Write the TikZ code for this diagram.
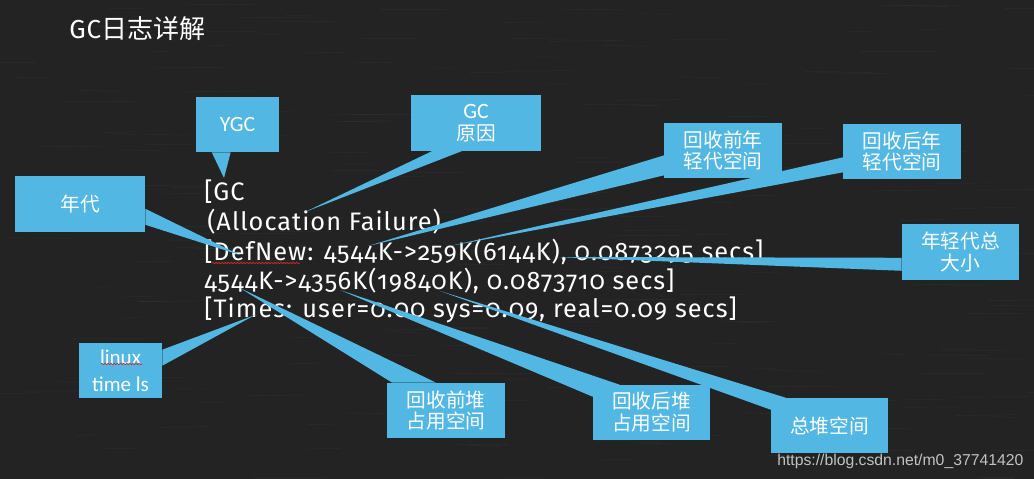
\documentclass[tikz,border=0pt]{standalone}
\usepackage{fontspec}
\usepackage{tikz}
\setmainfont{Carlito}
\newfontfamily\logfont{Fira Sans}[Numbers=OldStyle,LetterSpace=4]
\newfontfamily\cjk{Noto Sans CJK SC}
\newfontfamily\urlfont{Liberation Sans}
\usetikzlibrary{positioning,calc,decorations.pathmorphing}
\definecolor{board}{HTML}{232323}
\definecolor{callfill}{HTML}{52B7E3}
\definecolor{squiggle}{HTML}{D42A2A}
\definecolor{urlgray}{HTML}{C2C2C2}
\tikzset{
  callout/.style={fill=callfill,minimum width=2.925cm,minimum height=1.375cm,inner sep=1pt,align=center,text=white,font=\fontsize{14}{15.6}\selectfont\cjk},
  latincall/.style={callout,font=\fontsize{15.5}{17}\selectfont},
  wedge/.style={fill=callfill},
  logline/.style={anchor=base west,inner sep=0pt,text=white,font=\fontsize{18}{22}\selectfont\logfont},
  spell/.style={squiggle,line width=0.5pt,decorate,decoration={snake,amplitude=0.5pt,segment length=2.2pt}}
}

\begin{document}
\begin{tikzpicture}[x=0.025cm,y=-0.025cm]
  \useasboundingbox (0,0) rectangle (1034,479);
  \fill[board] (0,0) rectangle (1034,479);
  % chalk dust
  \pgfmathsetseed{7}
  \foreach \i in {1,...,220}
    \draw[white,opacity=0.05,line width=0.3pt] (rnd*1034,rnd*479) -- ++(20+rnd*60,rnd*2-1);

  \node[anchor=base west,inner sep=0pt,text=white,font=\fontsize{18.5}{20}\selectfont\logfont] (title) at (69,39) {GC{\cjk 日志详解}};

  % log text
  \node[logline] (l1) at (204,200) {[GC};
  \node[logline] (l2) at (207,230) {(Allocation Failure)};
  \node[logline] (l3) at (204,260) {[DefNew: 4544K->259K(6144K), 0.0873295 secs]};
  \node[logline] (l4) at (204,289) {4544K->4356K(19840K), 0.0873710 secs]};
  \node[logline] (l5) at (204,317) {[Times: user=0.00 sys=0.09, real=0.09 secs]};
  \draw[spell] (212,263) -- (300,263);

  % callouts
  \node[latincall,minimum width=2.075cm] (ygc) at (237.5,124.5) {YGC};
  \node[callout,minimum width=3.25cm] (cause) at (476,123) {{\fontsize{15.5}{17}\selectfont\rmfamily GC}\\原因};
  \node[callout] (ybefore) at (723,150.5) {回收前年\\轻代空间};
  \node[callout] (yafter) at (902,151.5) {回收后年\\轻代空间};
  \node[callout] (ytotal) at (960.5,252) {年轻代总\\大小};
  \node[callout,minimum width=3.25cm] (gen) at (80,204) {年代};
  \node[latincall,minimum width=2.075cm,font=\fontsize{15}{19}\selectfont] (ltime) at (120.5,370.5) {linux\\time ls};
  \node[callout] (hbefore) at (446,410.5) {回收前堆\\占用空间};
  \node[callout] (hafter) at (651.5,412.5) {回收后堆\\占用空间};
  \node[callout] (htotal) at (829.5,425.5) {总堆空间};
  \draw[spell] (101,364) -- (142,364);

  % pointer tips
  \coordinate (tygc) at (224,178);
  \coordinate (tcause) at (305,212);
  \coordinate (tybefore) at (368,246);
  \coordinate (tyafter) at (450,246);
  \coordinate (tytotal) at (555,257);
  \coordinate (tgen) at (240,255);
  \coordinate (tltime) at (255,315);
  \coordinate (thbefore) at (240,288);
  \coordinate (thafter) at (340,290);
  \coordinate (thtotal) at (440,291);

  \fill[wedge] ($(ygc.south west)+(16,0)$) -- (tygc) -- ($(ygc.south west)+(35,0)$) -- cycle;
  \fill[wedge] ($(cause.south west)+(22,0)$) -- (tcause) -- ($(cause.south west)+(52,0)$) -- cycle;
  \fill[wedge] ($(ybefore.south west)+(0,-23)$) -- (tybefore) -- ($(ybefore.south west)+(0,-3)$) -- cycle;
  \fill[wedge] ($(yafter.south west)+(0,-22)$) -- (tyafter) -- ($(yafter.south west)+(0,-7)$) -- cycle;
  \fill[wedge] ($(ytotal.south west)+(0,-22)$) -- (tytotal) -- ($(ytotal.south west)+(0,-9)$) -- cycle;
  \fill[wedge] ($(gen.south east)+(0,-23)$) -- (tgen) -- ($(gen.south east)+(0,-7)$) -- cycle;
  \fill[wedge] ($(ltime.north east)+(0,7)$) -- (tltime) -- ($(ltime.north east)+(0,23)$) -- cycle;
  \fill[wedge] ($(hbefore.north west)+(5,0)$) -- (thbefore) -- ($(hbefore.north west)+(49,0)$) -- cycle;
  \fill[wedge] ($(hafter.north west)+(0,12)$) -- (thafter) -- ($(hafter.north west)+(27,0)$) -- cycle;
  \fill[wedge] ($(htotal.north west)+(0,12)$) -- (thtotal) -- ($(htotal.north west)+(15,0)$) -- cycle;

  \node[anchor=base west,inner sep=0pt,text=urlgray,font=\fontsize{11.2}{13}\selectfont\urlfont] (url) at (777,465) {https://blog.csdn.net/m0\_37741420};
\end{tikzpicture}
\end{document}
